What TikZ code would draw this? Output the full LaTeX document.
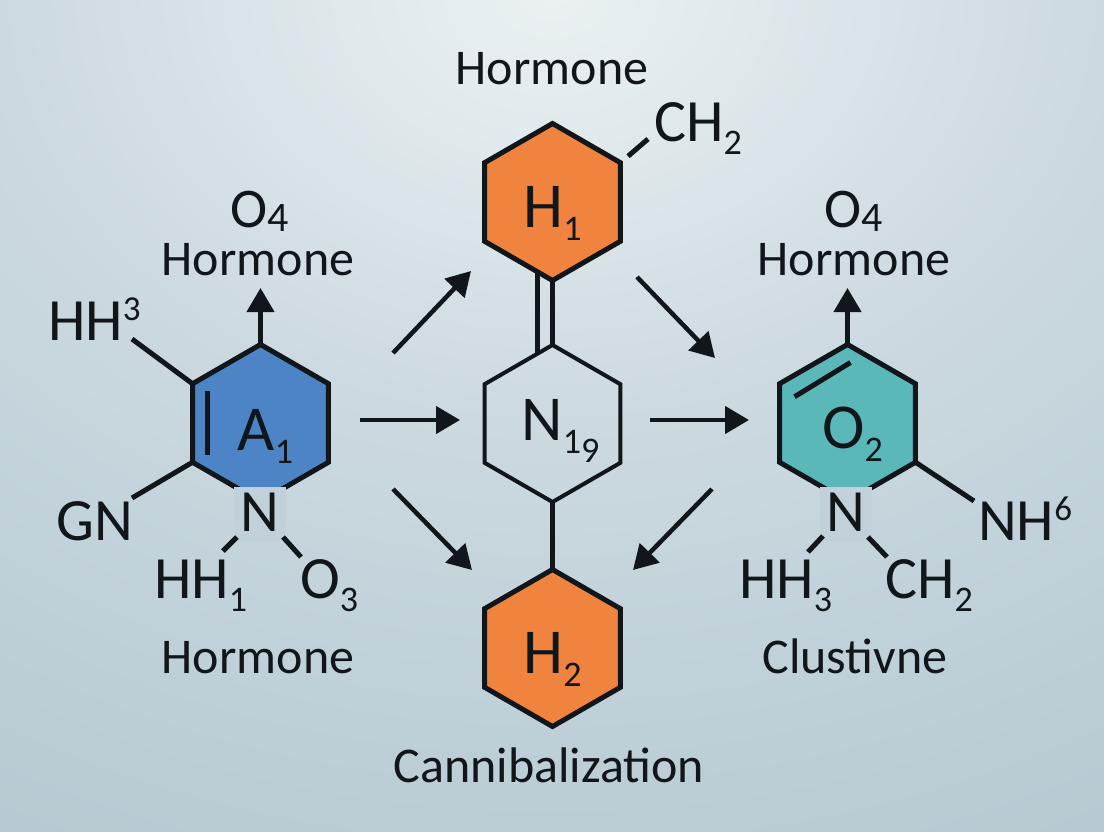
\documentclass[tikz,border=0pt]{standalone}
\usepackage{fontspec}
\setmainfont{Carlito}
\usetikzlibrary{shapes.geometric,arrows.meta}

\definecolor{ink}{HTML}{11161A}
\definecolor{hexblue}{HTML}{4D84C6}
\definecolor{hexorange}{HTML}{F0843F}
\definecolor{hexteal}{HTML}{5BB8B8}
\definecolor{patchgrey}{HTML}{C2D1D9}

\pgfdeclareradialshading{bgglow}{\pgfpoint{0bp}{0bp}}{
  rgb(0bp)=(.92,.945,.955);
  rgb(5bp)=(.86,.90,.915);
  rgb(10bp)=(.80,.85,.875);
  rgb(14bp)=(.77,.83,.86);
  rgb(19bp)=(.735,.80,.835);
  rgb(25bp)=(.70,.77,.81);
  rgb(50bp)=(.70,.77,.81)}

\newcommand{\chemsub}[1]{\raisebox{-13pt}{\fontsize{36}{36}\selectfont #1}}
\newcommand{\chemsup}[1]{\raisebox{20pt}{\fontsize{35}{35}\selectfont #1}}
\newcommand{\chemlow}[1]{\raisebox{-5pt}[\height][0pt]{\fontsize{42}{42}\selectfont #1}}

\begin{document}
\begin{tikzpicture}[x=1pt,y=-1pt,line cap=butt,
hexring/.style={regular polygon,regular polygon sides=6,shape border rotate=30,minimum size=157pt,inner sep=0pt,outer sep=0pt,draw=ink,line width=5pt,line join=miter,font=\fontsize{64}{64}\selectfont,text=ink},
chem/.style={anchor=base west,inner sep=0pt,text=ink,font=\fontsize{60}{60}\selectfont},
word/.style={anchor=base,inner sep=0pt,text=ink,font=\fontsize{50}{52}\selectfont},
nitro/.style={fill=patchgrey,inner xsep=7pt,inner ysep=9pt,text=ink,text height=36pt,text depth=0pt,font=\fontsize{60}{60}\selectfont},
bond/.style={ink,line width=5pt},
flow/.style={ink,line width=4.5pt,-{Triangle[length=24pt,width=27pt]}},
]

\useasboundingbox (0,0) rectangle (1104,832);
\begin{scope}
\clip (0,0) rectangle (1104,832);
\shade[shading=bgglow] (552,-10) ellipse (1400 and 1100);
\end{scope}

% rings
\node [hexring,fill=hexblue,text height=54pt,text depth=0pt] (hexA) at (260.5,423){\hspace{10pt}A\chemsub{1}};
\node [hexring,fill=hexorange,text height=52pt,text depth=0pt] (hexH) at (552.5,202){H\chemsub{1}};
\node [hexring,line width=4pt,text height=34pt,text depth=0pt] (hexN) at (552.5,423.5){\hspace{16pt}N\chemsub{1}\raisebox{-22pt}{\fontsize{36}{36}\selectfont 9}};
\node [hexring,fill=hexorange,text height=50pt,text depth=0pt] (hexJ) at (552.5,648){H\chemsub{2}};
\node [hexring,fill=hexteal,text height=50pt,text depth=0pt] (hexO) at (847.5,423){\hspace{10pt}O\chemsub{2}};

\node [nitro] (nA) at (260,513.5){N};
\node [nitro] (nO) at (846,513.5){N};

% labels
\node [word] (topname) at (552,85){Hormone};
\node [chem] (topch) at (654,142){CH\chemsub{2}};
\node [word] (leftname) at (258,275){Hormone};
\node [word,font=\fontsize{56}{60}\selectfont] (leftox) at (260,227){O\chemlow{4}};
\node [chem] (lefthh) at (48,340){HH\chemsup{3}};
\node [chem] (leftgn) at (56,540){GN};
\node [chem] (leftsub) at (154,598){HH\chemsub{1}};
\node [chem] (leftoo) at (300,598){O\chemsub{3}};
\node [word] (leftbot) at (258,673){Hormone};
\node [word] (botname) at (549,782){Cannibalization};
\node [word] (rightname) at (854,275){Hormone};
\node [word,font=\fontsize{56}{60}\selectfont] (rightox) at (854,227){O\chemlow{4}};
\node [chem] (rightsub) at (739,598){HH\chemsub{3}};
\node [chem] (rightch) at (885,598){CH\chemsub{2}};
\node [chem] (rightnh) at (978,540){NH\chemsup{6}};
\node [word] (rightbot) at (855,673){Clustivne};

% free ends
\coordinate (upA) at (260.5,288);
\coordinate (upO) at (847.5,288);
\coordinate (endch) at (648,139);
\coordinate (endhh) at (132,339);
\coordinate (endgn) at (132,498);
\coordinate (endnh) at (974,501);
\coordinate (a1) at (237,537);
\coordinate (a2) at (223,551);
\coordinate (a3) at (283,537);
\coordinate (a4) at (301,557);
\coordinate (o1) at (823,536);
\coordinate (o2) at (808,552);
\coordinate (o3) at (868,537);
\coordinate (o4) at (887,557);
\coordinate (f1) at (393,353);
\coordinate (f2) at (471,271);
\coordinate (f3) at (637,277);
\coordinate (f4) at (715,358);
\coordinate (f5) at (360,420);
\coordinate (f6) at (460,420);
\coordinate (f7) at (650,420);
\coordinate (f8) at (749,420);
\coordinate (f9) at (393,489);
\coordinate (f10) at (472,570);
\coordinate (f11) at (712,489);
\coordinate (f12) at (633,570);

% bonds
\draw [bond] (hexH.corner 4) -- (hexN.corner 1);
\draw [bond] ([xshift=-15pt,yshift=9pt]hexH.corner 4) -- ([xshift=-15pt,yshift=-9pt]hexN.corner 1);
\draw [bond] (hexN.corner 4) -- (hexJ.corner 1);
\draw [bond,shorten <=10pt] (hexH.corner 6) -- (endch);
\draw [bond] (hexA.corner 2) -- (endhh);
\draw [bond] (hexA.corner 3) -- (endgn);
\draw [bond] (hexO.corner 5) -- (endnh);
\draw [bond] (a1) -- (a2);
\draw [bond] (a3) -- (a4);
\draw [bond] (o1) -- (o2);
\draw [bond] (o3) -- (o4);
\draw [bond] ([xshift=15pt,yshift=-7pt]hexA.corner 2) -- ([xshift=15pt,yshift=7pt]hexA.corner 3);
\draw [bond] ([xshift=15pt,yshift=-13pt]hexO.corner 2) -- ([xshift=3pt,yshift=-18pt]hexO.corner 1);

% arrows
\draw [flow] (hexA.corner 1) -- (upA);
\draw [flow] (hexO.corner 1) -- (upO);
\draw [flow] (f1) -- (f2);
\draw [flow] (f3) -- (f4);
\draw [flow] (f5) -- (f6);
\draw [flow] (f7) -- (f8);
\draw [flow] (f9) -- (f10);
\draw [flow] (f11) -- (f12);
\end{tikzpicture}
\end{document}
